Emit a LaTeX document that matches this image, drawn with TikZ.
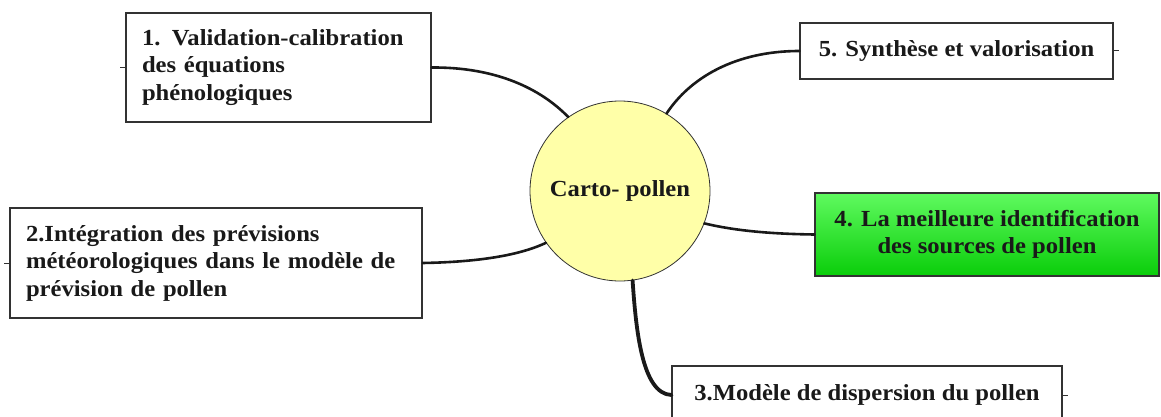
\documentclass[tikz,border=0pt]{standalone}
\usepackage{fontspec}
\setmainfont{Liberation Serif}[FakeStretch=1.07]
\definecolor{circfill}{RGB}{255,255,168}
\definecolor{boxline}{RGB}{50,50,50}
\definecolor{greentop}{RGB}{95,250,95}
\definecolor{greenbot}{RGB}{10,205,10}
\definecolor{txt}{RGB}{25,25,25}
\tikzset{
  boxnode/.style={rectangle, draw=boxline, line width=1.1pt, fill=white,
    inner xsep=16pt, inner ysep=0pt, text=txt,
    font=\fontsize{23}{27.5}\selectfont\bfseries},
  hub/.style={circle, draw=boxline, line width=0.8pt, fill=circfill,
    minimum size=180pt, inner sep=0pt, text=txt,
    font=\fontsize{23}{27.5}\selectfont\bfseries},
  conn/.style={line width=2.6pt, black!90, line cap=round},
  tickline/.style={line width=1pt, boxline}
}
\begin{document}
\begin{tikzpicture}[x=1pt, y=-1pt]
\useasboundingbox (0,0) rectangle (1161,417);
\clip (0,0) rectangle (1161,417);
\node[hub] (c) at (620,191) {Carto- pollen};
\node[boxnode, text width=273pt, align=left, minimum height=109pt] (b1) at (278.5,67.5)
  {1. Validation-calibration\\des équations\\phénologiques};
\node[boxnode, text width=380pt, align=left, minimum height=110pt] (b2) at (216,263)
  {2.Intégration des prévisions\\météorologiques dans le modèle de\\prévision de pollen};
\node[boxnode, minimum width=313pt, minimum height=56pt] (b5) at (956.5,51)
  {5. Synthèse et valorisation};
\node[boxnode, top color=greentop, bottom color=greenbot, minimum width=344pt,
  minimum height=83pt, align=center] (b4) at (987,234.5)
  {4. La meilleure identification\\des sources de pollen};
\node[boxnode, minimum width=390pt, minimum height=58pt] (b3) at (867,395)
  {3.Modèle de dispersion du pollen};
\draw[conn] (b1.east) .. controls (495,67) and (540,88) .. (c.125);
\draw[conn] (b5.west) .. controls (735,51) and (690,78) .. (c.59);
\draw[conn] (c.-21) .. controls (740,232) and (780,234) .. (b4.west);
\draw[conn] (b2.east) .. controls (480,262) and (520,255) .. (c.215);
\draw[conn, line width=3.8pt] (c.-82) .. controls (636,330) and (642,394) .. (b3.west);
\draw[tickline] (b1.west) -- ++(-5,0);
\draw[tickline] (b2.west) -- ++(-5,0);
\draw[tickline] (b5.east) -- ++(5,0);
\draw[tickline] (b3.east) -- ++(5,0);
\end{tikzpicture}
\end{document}
